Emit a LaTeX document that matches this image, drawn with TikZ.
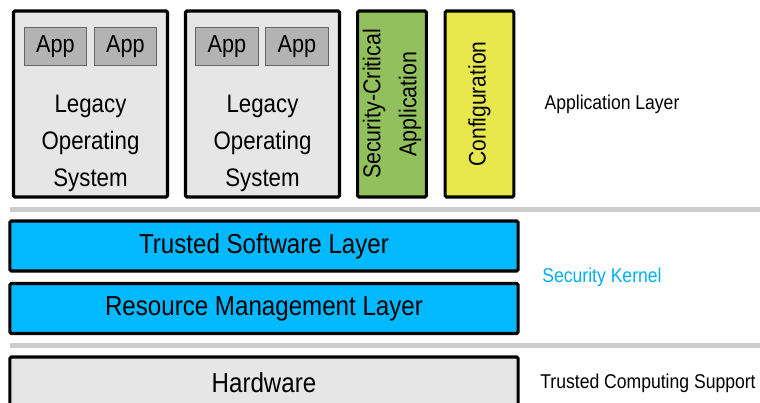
\documentclass[tikz,border=0pt]{standalone}
\usepackage{fontspec}
\setmainfont[FakeStretch=0.88]{Liberation Sans}
\usepackage{xcolor}
\usetikzlibrary{positioning}

\definecolor{osgray}{HTML}{E6E6E6}
\definecolor{appgray}{HTML}{B3B3B3}
\definecolor{sepgray}{HTML}{CCCCCC}
\definecolor{kernelblue}{HTML}{00B9FF}
\definecolor{kerneltext}{HTML}{00B0F0}
\definecolor{secgreen}{HTML}{92C05C}
\definecolor{cfgyellow}{HTML}{E8E84C}

\begin{document}
\begin{tikzpicture}[
    x=0.025cm, y=-0.025cm,
    osbox/.style={
        rectangle,
        rounded corners=1pt,
        minimum width=3.85cm,
        minimum height=4.65cm,
        draw=black,
        line width=2.2pt,
        fill=osgray
    },
    appbox/.style={
        rectangle,
        minimum width=1.57cm,
        minimum height=0.97cm,
        draw=black!60,
        line width=0.6pt,
        fill=appgray,
        font=\fontsize{17.5}{20}\selectfont
    },
    tallbox/.style={
        rectangle,
        rounded corners=1pt,
        minimum width=1.72cm,
        minimum height=4.65cm,
        draw=black,
        line width=2.2pt
    },
    layerbox/.style={
        rectangle,
        rounded corners=1pt,
        minimum width=12.7cm,
        minimum height=1.25cm,
        draw=black,
        line width=2.2pt,
        fill=kernelblue,
        font=\fontsize{19.5}{22}\selectfont
    },
    sidelabel/.style={font=\fontsize{14.2}{16}\selectfont},
    separator/.style={draw=sepgray, line width=3.6pt}
]
\useasboundingbox (0,0) rectangle (760,402);

% Application layer: two legacy systems
\node[osbox] (os1) at (90.5, 104) {};
\node[osbox] (os2) at (262.5, 104) {};
\node[appbox] (app1a) at (55.5, 46.5) {App};
\node[appbox] (app1b) at (125.5, 46.5) {App};
\node[appbox] (app2a) at (227, 46.5) {App};
\node[appbox] (app2b) at (297, 46.5) {App};
\node[align=center, font=\fontsize{18}{26.3}\selectfont] (os1txt) at (90.5, 143.5) {Legacy\\Operating\\System};
\node[align=center, font=\fontsize{18}{26.3}\selectfont] (os2txt) at (262.5, 143.5) {Legacy\\Operating\\System};

% Security-critical application and configuration
\node[tallbox, fill=secgreen] (secapp) at (392, 104) {};
\node[rotate=90, align=center, font=\fontsize{17.3}{25.6}\selectfont] (secapptxt) at (392, 104) {Security-Critical\\Application};
\node[tallbox, fill=cfgyellow] (config) at (479.5, 104) {};
\node[rotate=90, font=\fontsize{17}{20}\selectfont] (configtxt) at (479.5, 104) {Configuration};

\node[sidelabel] (applayer) at (612, 104) {Application Layer};

% Separators
\coordinate (sep1l) at (10, 209.5);
\coordinate (sep1r) at (760, 209.5);
\coordinate (sep2l) at (10, 345.5);
\coordinate (sep2r) at (760, 345.5);
\draw[separator] (sep1l) -- (sep1r);
\draw[separator] (sep2l) -- (sep2r);

% Security kernel
\node[layerbox] (tsl) at (264, 246) {Trusted Software Layer};
\node[layerbox] (rml) at (264, 308.5) {Resource Management Layer};
\node[sidelabel, text=kerneltext] (kernel) at (602, 277) {Security Kernel};

% Hardware
\node[layerbox, fill=osgray, minimum height=1.3cm] (hw) at (264, 383) {Hardware};
\node[sidelabel] (tcs) at (648, 383) {Trusted Computing Support};

\end{tikzpicture}
\end{document}
